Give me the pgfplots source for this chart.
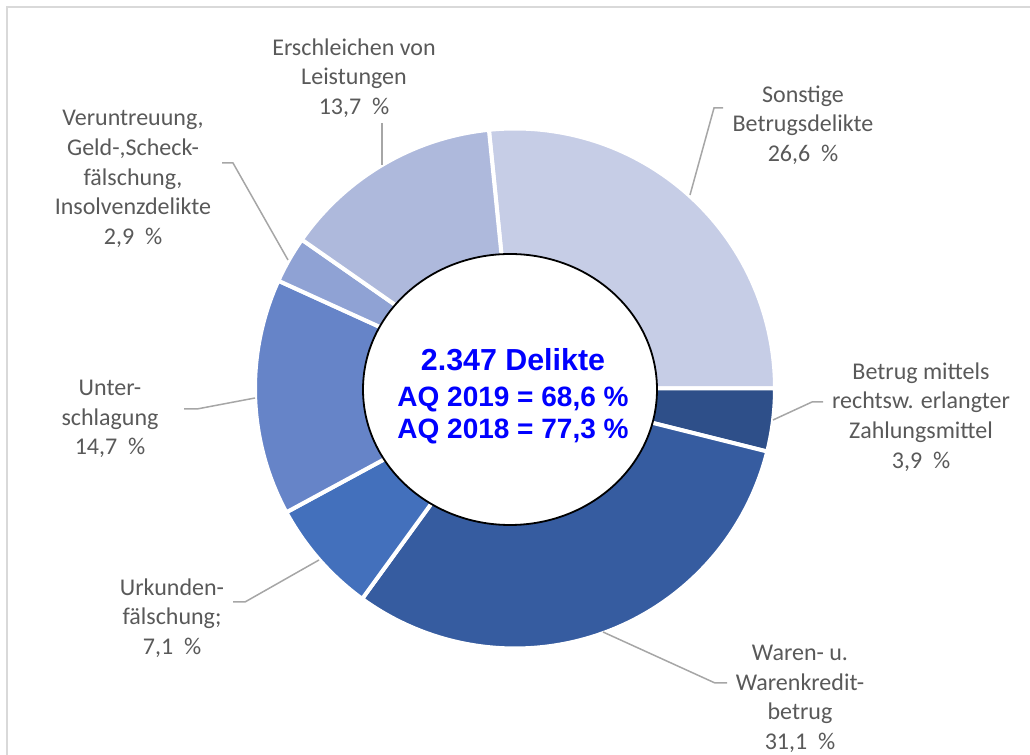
\documentclass[border=0pt]{standalone}
\usepackage{pgfplots}
\usepackage{pgfplotstable}
\pgfplotsset{compat=1.18}
\usepackage{fontspec}
\setmainfont{Carlito}
\newfontfamily\arialfont{Liberation Sans}
\definecolor{c0}{HTML}{C6CDE6}
\definecolor{c1}{HTML}{2E4F89}
\definecolor{c2}{HTML}{365CA0}
\definecolor{c3}{HTML}{4370BC}
\definecolor{c4}{HTML}{6684C8}
\definecolor{c5}{HTML}{8FA2D4}
\definecolor{c6}{HTML}{AEB9DC}
\definecolor{txt}{HTML}{595959}
\definecolor{lead}{HTML}{A6A6A6}
\definecolor{frame}{HTML}{D9D9D9}
\definecolor{aqblue}{HTML}{0000FF}

\pgfplotstableread{
name value
Sonstige 26.6
Betrug 3.9
Waren 31.1
Urkunden 7.1
Unterschlagung 14.7
Veruntreuung 2.9
Erschleichen 13.7
}\datatable

\begin{document}
\begin{tikzpicture}
\useasboundingbox (0,0) rectangle (515pt,377.5pt);
\begin{axis}[
  scale only axis, width=515pt, height=377.5pt,
  xmin=0, xmax=1030, ymin=0, ymax=755,
  hide axis, clip=false,
]
% frame
\addplot[frame, line width=0.8pt] coordinates {(7,0) (7,748) (1030,748)};
% donut wedges
\xdef\startang{95.76}
\foreach \i in {0,...,6}{
  \pgfplotstablegetelem{\i}{value}\of\datatable
  \pgfmathsetmacro{\endang}{\startang-3.6*\pgfplotsretval}
  \edef\temp{\noexpand\addplot[fill=c\i, draw=white, line width=2pt, line join=round, domain=\endang:\startang, samples=90]
    ({515+260*cos(x)},{366.5+260*sin(x)}) -- (axis cs:515,366.5) -- cycle;}
  \temp
  \xdef\startang{\endang}
}
% inner ellipse
\draw[fill=white, draw=black, line width=0.9pt] (axis cs:510,365.5) ellipse [x radius=147pt/2, y radius=135.5pt/2];
\node[align=center, text=aqblue, font=\arialfont\bfseries\fontsize{14}{16.2}\selectfont] at (axis cs:513,358.5)
  {{\fontsize{15.2}{17}\selectfont 2.347 Delikte}\\[1.5pt]
   AQ 2019 = 68,6 \%\\
   AQ 2018 = 77,3 \%};
% leader lines
\addplot[lead, line width=0.75pt] coordinates {(723,647) (714,647) (690,560)};
\addplot[lead, line width=0.75pt] coordinates {(823,353) (812,353) (773,335)};
\addplot[lead, line width=0.75pt] coordinates {(727,72) (715,72) (603,123)};
\addplot[lead, line width=0.75pt] coordinates {(233,153) (245,153) (319,195)};
\addplot[lead, line width=0.75pt] coordinates {(184,346) (197,346) (255,357)};
\addplot[lead, line width=0.75pt] coordinates {(222,592) (233,592) (288,495)};
\addplot[lead, line width=0.75pt] coordinates {(382,632) (382,590)};
% labels
\tikzset{lbl/.style={align=center, text=txt, font=\fontsize{12}{14.8}\selectfont}}
\node[lbl] at (axis cs:354,677) {Erschleichen von\\Leistungen\\13,7\ \ \%};
\node[lbl] at (axis cs:133,576) {Veruntreuung,\\Geld-,Scheck-\\fälschung,\\Insolvenzdelikte\\2,9\ \ \%};
\node[lbl] at (axis cs:803,630) {Sonstige\\Betrugsdelikte\\26,6\ \ \%};
\node[lbl] at (axis cs:921,338) {Betrug mittels\\rechtsw. erlangter\\Zahlungsmittel\\3,9\ \ \%};
\node[lbl] at (axis cs:800,56) {Waren- u.\\Warenkredit-\\betrug\\31,1\ \ \%};
\node[lbl] at (axis cs:110,336) {Unter-\\schlagung\\14,7\ \ \%};
\node[lbl] at (axis cs:172,137) {Urkunden-\\fälschung;\\7,1\ \ \%};
\end{axis}
\end{tikzpicture}
\end{document}
